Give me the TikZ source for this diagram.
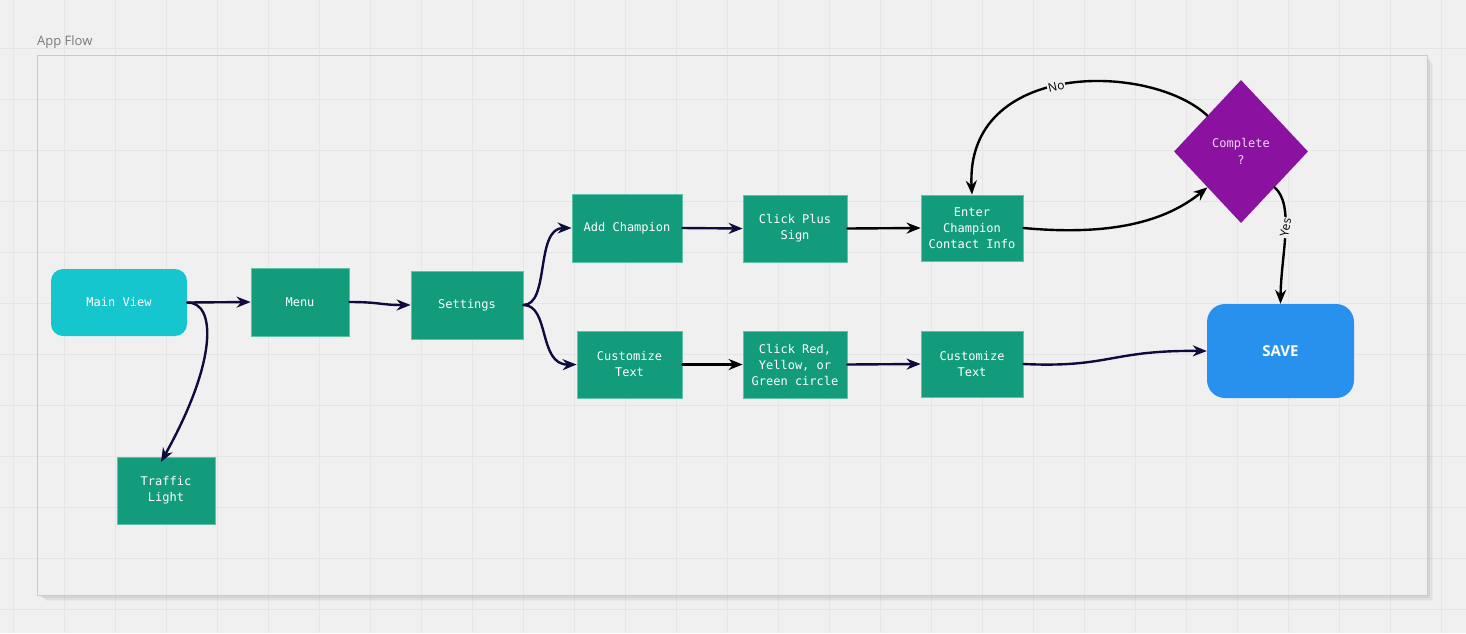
\documentclass[tikz,border=0pt]{standalone}
\usepackage{fontspec}
\setmainfont{Open Sans}
\newfontfamily\monofont{DejaVu Sans Mono}
\usetikzlibrary{shapes.geometric,arrows.meta}

\definecolor{bgcol}{HTML}{F0F0F0}
\definecolor{gridcol}{HTML}{E5E5E5}
\definecolor{framecol}{HTML}{CACACA}
\definecolor{cyancol}{HTML}{15C6CE}
\definecolor{greencol}{HTML}{139C7C}
\definecolor{greenedge}{HTML}{5FC2A9}
\definecolor{purplecol}{HTML}{8B12A0}
\definecolor{bluecol}{HTML}{2891EE}
\definecolor{navycol}{HTML}{0E0B3D}
\definecolor{titlecol}{HTML}{7A7A7A}
\definecolor{qtext}{HTML}{F2D6F4}

\tikzset{
  box/.style={rectangle, inner sep=0pt, text=white, align=center,
    font=\monofont\fontsize{12}{16}\selectfont},
  greenbox/.style={box, fill=greencol, draw=greenedge, line width=0.8pt},
  flow/.style={line width=2.4pt, draw=navycol, line cap=round,
    -{Stealth[length=14pt,width=11pt]}},
  flowk/.style={flow, draw=black},
  edgelabel/.style={fill=bgcol, inner sep=1pt, font=\fontsize{12}{13}\selectfont, text=black},
}

\begin{document}
\begin{tikzpicture}[x=1pt,y=-1pt]
  % canvas and background grid
  \fill[bgcol] (0,0) rectangle (1466,633);
  \useasboundingbox (0,0) rectangle (1466,633);
  \foreach \gx in {13,64,...,1466} \draw[gridcol, line width=0.7pt] (\gx,0) -- (\gx,633);
  \foreach \gy in {48,99,...,633} \draw[gridcol, line width=0.7pt] (0,\gy) -- (1466,\gy);

  % frame title
  \node[anchor=base west, inner sep=0pt, text=titlecol, font=\fontsize{13}{14}\selectfont]
    (title) at (37,45) {App Flow};

  % frame with soft shadow on the right and bottom
  \foreach \s/\o in {7/0.03,6/0.04,5/0.05,4/0.06,3/0.08,2/0.10,1/0.13}
    \draw[black, opacity=\o, line width=1.2pt]
      (1427+\s*0.7,57+\s) -- (1427+\s*0.7,595+\s*0.7) -- (39+\s,595+\s*0.7);
  \draw[framecol, line width=1pt] (37,55) rectangle (1427,595);

  % nodes
  \node[box, fill=cyancol, rounded corners=12pt, minimum width=136pt, minimum height=67pt]
    (mv) at (119,302.5) {Main View};
  \node[greenbox, minimum width=98pt, minimum height=68pt] (menu) at (300,302) {Menu};
  \node[greenbox, minimum width=112pt, minimum height=68pt] (set) at (467,305) {Settings};
  \node[greenbox, minimum width=110pt, minimum height=68pt] (add) at (627,228) {Add Champion};
  \node[greenbox, minimum width=104pt, minimum height=67pt] (plus) at (795,228.5) {Click Plus\\Sign};
  \node[greenbox, minimum width=102pt, minimum height=66pt] (enter) at (972,228) {Enter\\Champion\\Contact Info};
  \node[greenbox, minimum width=105pt, minimum height=67pt] (ct1) at (629.5,364.5) {Customize\\Text};
  \node[greenbox, minimum width=104pt, minimum height=67pt] (red) at (795,364.5) {Click Red,\\Yellow, or\\Green circle};
  \node[greenbox, minimum width=102pt, minimum height=66pt] (ct2) at (972,364) {Customize\\Text};
  \node[greenbox, minimum width=98pt, minimum height=67pt] (tl) at (166,490.5) {Traffic\\Light};
  \node[diamond, fill=purplecol, inner sep=0pt, minimum width=134pt, minimum height=143pt,
    text=qtext, align=center, font=\monofont\fontsize{12}{17}\selectfont]
    (dec) at (1241,151.5) {Complete\\?};
  \node[rectangle, fill=bluecol, rounded corners=18pt, minimum width=147pt, minimum height=94pt,
    text=white, font=\bfseries\fontsize{15}{16}\selectfont]
    (save) at (1280.5,351) {SAVE};

  % connectors
  \draw[flow] (mv.east) -- (menu.west);
  \draw[flow] (mv.east) .. controls (216,302) and (218,360) .. (161,462);
  \draw[flow] (menu.east) .. controls (380,302) and (380,305) .. (set.west);
  \draw[flow] (set.east) .. controls (550,305) and (535,228) .. (add.west);
  \draw[flow] (set.east) .. controls (550,305) and (538,365) .. (ct1.west);
  \draw[flow] (add.east) -- (plus.west);
  \draw[flowk] (plus.east) -- (enter.west);
  \draw[flowk] (enter.east) .. controls (1110,236) and (1165,222) .. (dec.south west);
  \draw[flowk] (dec.north west) .. controls (1150,62) and (965,60) .. (enter.north)
    node[edgelabel, pos=0.53, rotate=13] (nolab) {No};
  \draw[flowk] (dec.south east) .. controls (1295,205) and (1281,255) .. (save.north)
    node[edgelabel, pos=0.45, rotate=80] (yeslab) {Yes};
  \draw[flowk] (ct1.east) -- (red.west);
  \draw[flow] (red.east) -- (ct2.west);
  \draw[flow] (ct2.east) .. controls (1110,368) and (1110,350) .. (save.west);
\end{tikzpicture}
\end{document}
